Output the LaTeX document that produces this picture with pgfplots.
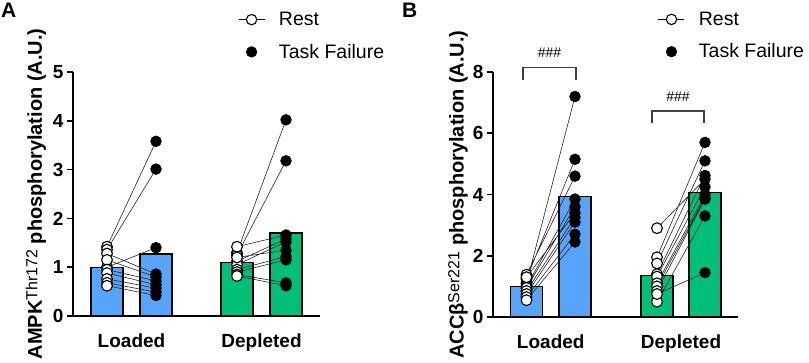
\documentclass[border=0pt]{standalone}
\usepackage{fontspec}
\setmainfont{Liberation Sans}
\usepackage{pgfplots}
\pgfplotsset{compat=1.18}
\definecolor{barblue}{RGB}{86,165,250}
\definecolor{bargreen}{RGB}{0,192,120}
\newcommand{\sups}[1]{\raisebox{0.22em}{\fontsize{16}{18}\selectfont\mdseries #1}}
\pgfplotsset{
 panel/.style={
  scale only axis, axis lines*=left, axis line style={line width=2pt},
  ymin=0, xmin=0, clip=false,
  ytick style={line width=1.6pt, black}, tick align=outside, major tick length=6pt,
  xtick style={draw=none},
  x tick label style={font=\fontsize{19}{22}\selectfont\bfseries, yshift=-8pt},
  y tick label style={font=\fontsize{19}{21}\selectfont\bfseries},
  /pgf/number format/assume math mode=true,
  legend cell align=left,
  legend style={draw=none, fill=none, font=\fontsize{19.5}{23}\selectfont, row sep=17pt, column sep=14pt, anchor=north west, inner sep=0pt, nodes={inner sep=0pt}},
  every axis y label/.style={at={(axis description cs:-0.15,0.5)}, rotate=90, anchor=center, font=\fontsize{20}{24}\selectfont\bfseries},
 },
 pairs/.style={line width=0.6pt, black!85, unbounded coords=jump, scatter, mark=*, mark size=5.4pt,
   scatter src=explicit symbolic,
   scatter/classes={r={draw=black, fill=white, line width=1.1pt}, t={draw=black, fill=black}}},
 bars/.style={ybar, bar shift=0pt, bar width=32, draw=black, line width=1.2pt},
 restleg/.style={legend image code/.code={\draw[line width=0.8pt, black] plot[mark=*, mark size=5.2pt, mark options={fill=white, line width=1.1pt}, mark repeat=2, mark phase=2] coordinates {(0pt,0pt) (13pt,0pt) (26pt,0pt)};}},
 tfleg/.style={legend image code/.code={\path[draw=none] plot[only marks, mark=*, mark size=5.4pt, mark options={fill=black, draw=black}] coordinates {(13pt,0pt)}; \path (0pt,0pt) (26pt,0pt);}},
}
\begin{document}
\begin{tikzpicture}
\useasboundingbox (0pt,0pt) rectangle (809pt,362pt);
\node[anchor=north west, inner sep=0pt, font=\fontsize{21}{24}\selectfont\bfseries] at (1pt,359pt) {A};
\node[anchor=north west, inner sep=0pt, font=\fontsize{21}{24}\selectfont\bfseries] at (402pt,359pt) {B};
% Panel A
\begin{axis}[panel, at={(73pt,46pt)}, anchor=south west, width=247pt, height=244pt,
  xmax=247, ymax=5, ytick={0,1,2,3,4,5},
  xtick={58.5,188.5}, xticklabels={Loaded,Depleted},
  ylabel={AMPK\sups{Thr172} phosphorylation (A.U.)},
  legend style={at={(0.668,1.246)}}]
\addlegendimage{restleg}\addlegendentry{Rest}
\addlegendimage{tfleg}\addlegendentry{Task Failure}
\addplot[bars, fill=barblue] coordinates {(34,1.00) (83,1.27)};
\addplot[bars, fill=bargreen] coordinates {(164,1.10) (213,1.70)};
\addplot[pairs] coordinates {
 (34,1.42)[r] (83,3.58)[t] (nan,nan)[r]
 (34,1.36)[r] (83,3.01)[t] (nan,nan)[r]
 (34,1.00)[r] (83,1.40)[t] (nan,nan)[r]
 (34,1.28)[r] (83,0.86)[t] (nan,nan)[r]
 (34,1.15)[r] (83,0.80)[t] (nan,nan)[r]
 (34,0.95)[r] (83,0.72)[t] (nan,nan)[r]
 (34,0.88)[r] (83,0.64)[t] (nan,nan)[r]
 (34,0.76)[r] (83,0.57)[t] (nan,nan)[r]
 (34,0.68)[r] (83,0.49)[t] (nan,nan)[r]
 (34,0.62)[r] (83,0.42)[t]
};
\addplot[pairs] coordinates {
 (164,1.30)[r] (213,4.02)[t] (nan,nan)[r]
 (164,1.25)[r] (213,3.18)[t] (nan,nan)[r]
 (164,1.42)[r] (213,1.66)[t] (nan,nan)[r]
 (164,1.12)[r] (213,1.58)[t] (nan,nan)[r]
 (164,1.05)[r] (213,1.52)[t] (nan,nan)[r]
 (164,1.20)[r] (213,1.35)[t] (nan,nan)[r]
 (164,0.95)[r] (213,1.22)[t] (nan,nan)[r]
 (164,0.90)[r] (213,1.15)[t] (nan,nan)[r]
 (164,0.85)[r] (213,0.68)[t] (nan,nan)[r]
 (164,0.82)[r] (213,0.62)[t]
};
\end{axis}
% Panel B
\begin{axis}[panel, at={(493pt,45pt)}, anchor=south west, width=245pt, height=245pt,
  xmax=245, ymax=8, ytick={0,2,4,6,8},
  xtick={57.75,188}, xticklabels={Loaded,Depleted},
  ylabel={ACCβ\sups{Ser221} phosphorylation (A.U.)},
  every axis y label/.append style={at={(axis description cs:-0.143,0.5)}},
  legend style={at={(0.673,1.246)}}]
\addlegendimage{restleg}\addlegendentry{Rest}
\addlegendimage{tfleg}\addlegendentry{Task Failure}
\addplot[bars, fill=barblue] coordinates {(33.5,1.00) (82,3.93)};
\addplot[bars, fill=bargreen] coordinates {(164,1.35) (212,4.07)};
\addplot[pairs] coordinates {
 (33.5,1.10)[r] (82,7.20)[t] (nan,nan)[r]
 (33.5,1.25)[r] (82,5.15)[t] (nan,nan)[r]
 (33.5,1.38)[r] (82,4.60)[t] (nan,nan)[r]
 (33.5,1.00)[r] (82,3.85)[t] (nan,nan)[r]
 (33.5,0.95)[r] (82,3.60)[t] (nan,nan)[r]
 (33.5,1.30)[r] (82,3.40)[t] (nan,nan)[r]
 (33.5,0.85)[r] (82,3.25)[t] (nan,nan)[r]
 (33.5,0.75)[r] (82,3.10)[t] (nan,nan)[r]
 (33.5,0.65)[r] (82,2.70)[t] (nan,nan)[r]
 (33.5,0.55)[r] (82,2.45)[t]
};
\addplot[pairs] coordinates {
 (164,2.90)[r] (212,4.50)[t] (nan,nan)[r]
 (164,1.95)[r] (212,5.70)[t] (nan,nan)[r]
 (164,1.75)[r] (212,5.10)[t] (nan,nan)[r]
 (164,1.40)[r] (212,4.62)[t] (nan,nan)[r]
 (164,1.32)[r] (212,4.25)[t] (nan,nan)[r]
 (164,1.10)[r] (212,4.00)[t] (nan,nan)[r]
 (164,1.00)[r] (212,3.90)[t] (nan,nan)[r]
 (164,0.85)[r] (212,3.85)[t] (nan,nan)[r]
 (164,0.50)[r] (212,3.30)[t] (nan,nan)[r]
 (164,0.75)[r] (212,1.45)[t]
};
\draw[line width=1.4pt, black!75] (axis cs:30,7.75) |- (axis cs:83,8.14) -- (axis cs:83,7.75);
\node[font=\fontsize{14}{16}\selectfont] at (axis cs:56.5,8.63) {\#\#\#};
\draw[line width=1.4pt, black!75] (axis cs:159,6.34) |- (axis cs:211,6.73) -- (axis cs:211,6.34);
\node[font=\fontsize{14}{16}\selectfont] at (axis cs:185,7.19) {\#\#\#};
\end{axis}
\end{tikzpicture}
\end{document}
